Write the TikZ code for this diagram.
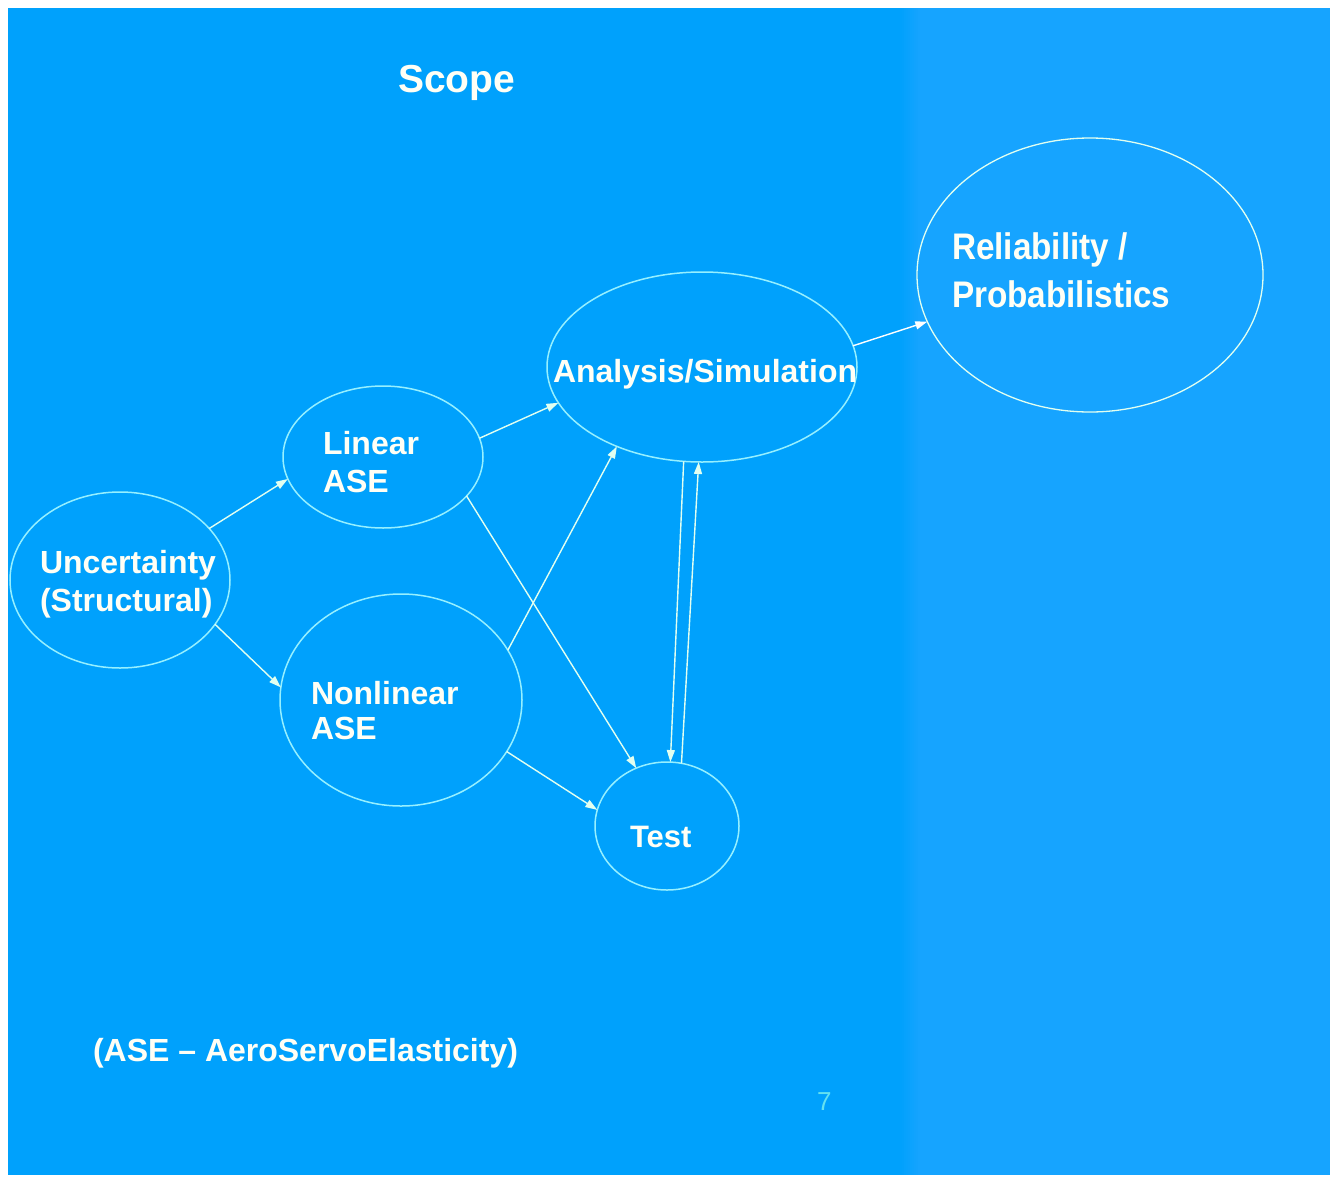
\documentclass[tikz,border=0pt]{standalone}
\usepackage{fontspec}
\setmainfont{Liberation Sans}
\newfontfamily\narrowfont[FakeStretch=0.9]{Liberation Sans}
\usetikzlibrary{shapes.geometric,arrows.meta}
\definecolor{bgL}{RGB}{0,161,252}
\definecolor{bgR}{RGB}{22,164,255}
\definecolor{ring}{RGB}{150,240,255}
\definecolor{connc}{RGB}{225,255,240}
\definecolor{txt}{RGB}{255,255,245}
\definecolor{pagenum}{RGB}{100,225,240}
\begin{document}
\begin{tikzpicture}[x=1pt,y=-1pt,
  ell/.style={ellipse, draw=ring, line width=1.5pt, inner sep=0pt, outer sep=0pt},
  lbl/.style={text=txt, inner sep=0pt, outer sep=0pt, align=left},
  arr/.style={draw=connc, line width=1.4pt, -{Triangle[length=12pt,width=8pt]}}]
% background
\useasboundingbox (0,0) rectangle (1335,1178);
\fill[white] (0,0) rectangle (1335,1178);
\fill[bgL] (8,8) rectangle (900,1175);
\fill[bgR] (920,8) rectangle (1330,1175);
\foreach \i in {0,...,9} {
  \pgfmathsetmacro{\p}{100-10*\i-5}
  \fill[bgL!\p!bgR] (900+2*\i,8) rectangle (902.2+2*\i,1175);
}
% ellipses
\node[ell, minimum width=220pt, minimum height=176pt] (unc) at (120,580) {};
\node[ell, minimum width=200pt, minimum height=142pt] (lin) at (383,457) {};
\node[ell, minimum width=242pt, minimum height=212pt] (non) at (401,700) {};
\node[ell, minimum width=310pt, minimum height=190pt] (ana) at (702,367) {};
\node[ell, minimum width=144pt, minimum height=128pt] (test) at (667,826) {};
\node[ell, draw=connc, line width=1.3pt, minimum width=346pt, minimum height=274pt] (rel) at (1090,275) {};
% labels
\node[lbl, anchor=base west, font=\bfseries\fontsize{39}{44}\selectfont] (scope) at (398,92) {Scope};
\node[lbl, anchor=west, font=\bfseries\fontsize{32}{38}\selectfont] (tunc) at (40,584) {Uncertainty\\(Structural)};
\node[lbl, anchor=west, font=\bfseries\fontsize{32}{38}\selectfont] (tlin) at (323,462) {Linear\\ASE};
\node[lbl, anchor=west, font=\bfseries\fontsize{32}{35}\selectfont] (tnon) at (311,711) {Nonlinear\\ASE};
\node[lbl, anchor=base west, font=\bfseries\fontsize{32}{38}\selectfont] (tana) at (553,382) {Analysis/Simulation};
\node[lbl, anchor=base west, font=\bfseries\fontsize{31}{36}\selectfont] (ttest) at (630,847) {Test};
\node[lbl, anchor=west, font=\narrowfont\bfseries\fontsize{37}{48}\selectfont] (trel) at (952,270.5) {Reliability /\\Probabilistics};
\node[lbl, anchor=base west, font=\bfseries\fontsize{32}{38}\selectfont] (tnote) at (93,1061) {(ASE – AeroServoElasticity)};
\node[text=pagenum, inner sep=0pt, anchor=base west, font=\fontsize{26}{30}\selectfont] (pg) at (817,1110) {7};
% connectors
\draw[arr] (unc.30) -- (lin.-167);
\draw[arr] (unc.-25) -- (non.174);
\draw[arr] (lin.11) -- (ana.194);
\draw[arr] (non.25) -- (ana.223);
\draw[arr] (lin.-25) -- (test.118);
\draw[arr] (non.-26) -- (test.167);
\draw[arr] (ana.259) -- (test.87);
\draw[arr] (test.77) -- (ana.268);
\draw[arr, draw=white] (ana.8) -- (rel.196);
\end{tikzpicture}
\end{document}
